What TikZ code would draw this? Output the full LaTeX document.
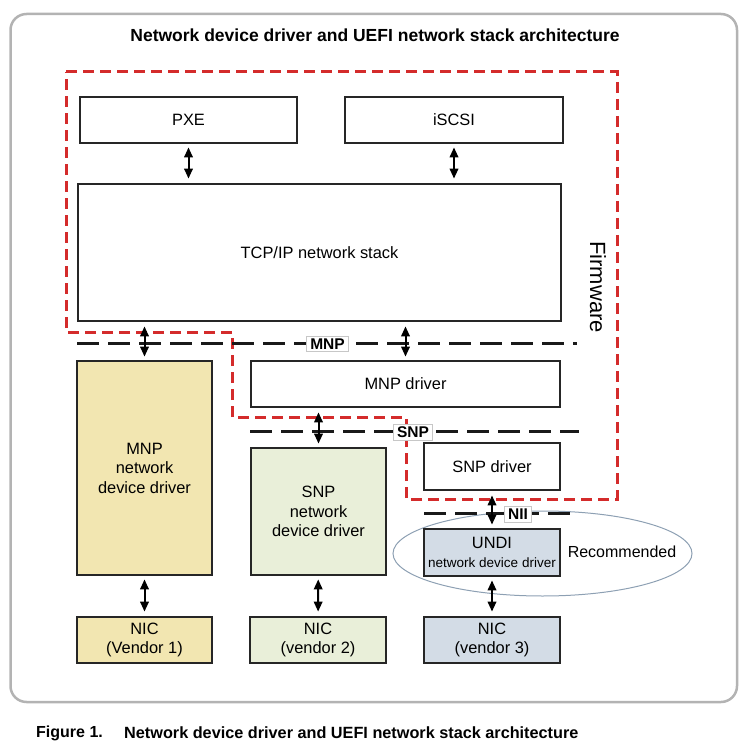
\documentclass[tikz,border=0pt]{standalone}
\usepackage{fontspec}
\setmainfont{Liberation Sans}
\usetikzlibrary{arrows.meta}

\definecolor{fwred}{HTML}{D42B2B}
\definecolor{vendA}{HTML}{F2E6B1}
\definecolor{vendB}{HTML}{E9EFD9}
\definecolor{vendC}{HTML}{D3DCE6}
\definecolor{framegray}{HTML}{B3B3B3}
\definecolor{ovalgray}{HTML}{8DA0B3}

\begin{document}
\begin{tikzpicture}[x=1pt, y=-1pt,
  box/.style={draw=black!85, line width=1.8pt, fill=white, inner sep=0pt, align=center,
    font=\fontsize{16.4}{19.5}\selectfont},
  iface/.style={draw=black!90, line width=3pt, dash pattern=on 22pt off 9pt},
  tag/.style={draw=black!22, line width=1pt, fill=white, inner xsep=4pt, inner ysep=2.5pt,
    font=\fontsize{15.5}{18}\selectfont\bfseries},
  arr/.style={{Triangle[width=8.5pt,length=10pt]}-{Triangle[width=8.5pt,length=10pt]},
    line width=2pt, shorten <=3.5pt, shorten >=4.5pt}]

\useasboundingbox (0,0) rectangle (752,743);
\draw [framegray, line width=2.5pt, rounded corners=16pt] (10.5,14) rectangle (737,702);

\node [font=\fontsize{17.5}{20}\selectfont\bfseries] (title) at (375,35)
  {Network device driver and UEFI network stack architecture};

% firmware boundary
\draw [fwred, line width=3pt, dash pattern=on 11pt off 6pt]
  (66,72) -- (617,72) -- (617,499) -- (406,499) -- (406,417)
  -- (232,417) -- (232,332) -- (66,332) -- cycle;
\node [rotate=-90, font=\fontsize{22}{26}\selectfont] (fw) at (598,287) {Firmware};

\draw [ovalgray, line width=1pt] (542.5,553.5) ellipse [x radius=149.5pt, y radius=42.5pt];
\node [font=\fontsize{16}{19}\selectfont] (rec) at (622,552) {Recommended};

% interfaces
\coordinate (mnpL) at (77,343);  \coordinate (mnpR) at (577,343);
\coordinate (snpL) at (250,431); \coordinate (snpR) at (579,431);
\coordinate (niiL) at (424,513); \coordinate (niiR) at (578,513);
\draw [iface] (mnpL) -- (mnpR);
\draw [iface] (snpL) -- (snpR);
\draw [iface] (niiL) -- (niiR);
\node [tag] (mnp) at (327.5,344) {MNP};
\node [tag] (snp) at (413,432.5) {SNP};
\node [tag] (nii) at (518,514.5) {NII};

\node [box, minimum width=217pt, minimum height=46pt] (pxe)   at (188.5,120) {PXE};
\node [box, minimum width=218pt, minimum height=46pt] (iscsi) at (454,120) {iSCSI};
\node [box, minimum width=483pt, minimum height=137pt] (tcp)  at (319.5,252.5) {TCP/IP network stack};
\node [box, minimum width=309pt, minimum height=46pt] (mnpdrv) at (405.5,384) {MNP driver};
\node [box, minimum width=136pt, minimum height=47pt] (snpdrv) at (492,466.5) {SNP driver};

\node [box, fill=vendA, minimum width=135pt, minimum height=214pt] (mnpdev) at (144.5,468)
  {MNP\\network\\device driver};
\node [box, fill=vendB, minimum width=135pt, minimum height=127pt] (snpdev) at (318.5,511.5)
  {SNP\\network\\device driver};
\node [box, fill=vendC, minimum width=136pt, minimum height=47pt] (undi) at (492,552.5)
  {UNDI\\[-1pt]{\fontsize{13.5}{16}\selectfont network device driver}};

\node [box, fill=vendA, minimum width=135pt, minimum height=46pt] (nic1) at (144.5,640) {NIC\\(Vendor 1)};
\node [box, fill=vendB, minimum width=136pt, minimum height=46pt] (nic2) at (318,640) {NIC\\(vendor 2)};
\node [box, fill=vendC, minimum width=136pt, minimum height=46pt] (nic3) at (492,640) {NIC\\(vendor 3)};

\draw [arr] (pxe) -- (pxe |- tcp.north);
\draw [arr] (iscsi) -- (iscsi |- tcp.north);
\draw [arr] (mnpdev.north) -- (mnpdev.north |- tcp.south);
\draw [arr] (mnpdrv.north) -- (mnpdrv.north |- tcp.south);
\draw [arr] (snpdev.north) -- (snpdev.north |- mnpdrv.south);
\draw [arr] (undi.north) -- (snpdrv.south);
\draw [arr] (mnpdev) -- (nic1);
\draw [arr] (snpdev) -- (nic2);
\draw [arr] (undi) -- (nic3);

\node [anchor=west, inner sep=0pt, font=\fontsize{16}{19}\selectfont\bfseries] (figno) at (36,733) {Figure 1.};
\node [anchor=west, inner sep=0pt, font=\fontsize{16.25}{19}\selectfont\bfseries] (caption) at (124,733)
  {Network device driver and UEFI network stack architecture};

\end{tikzpicture}
\end{document}
